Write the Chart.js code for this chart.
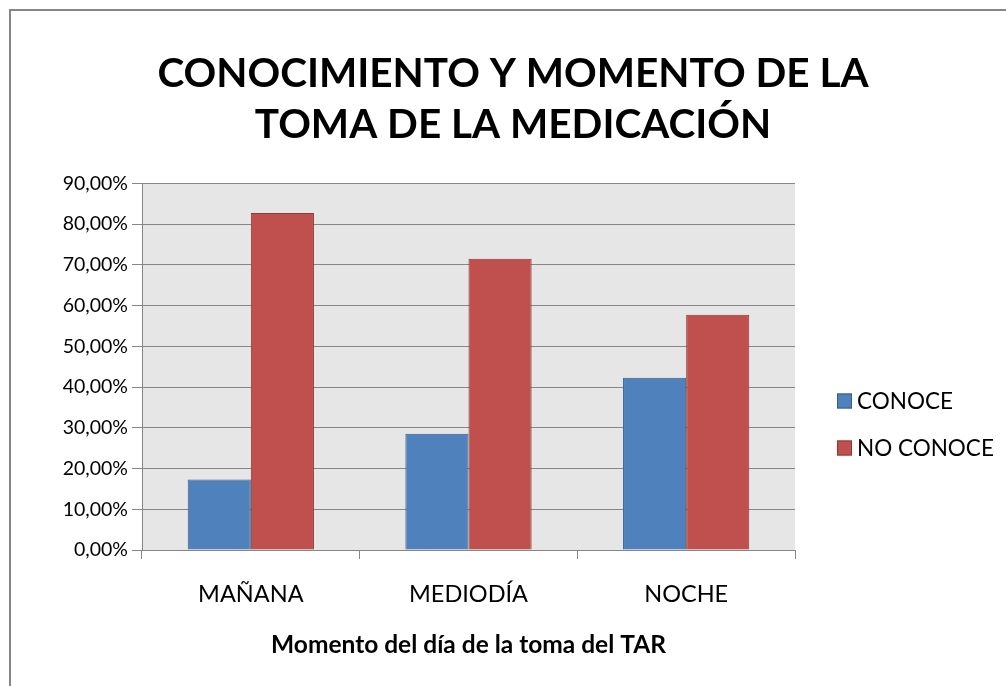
<!DOCTYPE html>
<html>
<head>
<meta charset="utf-8">
<script src="https://cdn.jsdelivr.net/npm/chart.js@4/dist/chart.umd.min.js"></script>
<style>
  html, body { margin: 0; padding: 0; background: #fff; }
  #wrap { position: relative; width: 1006px; height: 686px; }
</style>
</head>
<body>
<div id="wrap"><canvas id="chart" width="1006" height="686"></canvas></div>
<script>
// datos del gráfico
const categories = ["MAÑANA", "MEDIODÍA", "NOCHE"];
const conoce = [17.3, 28.5, 42.3];
const noConoce = [82.7, 71.5, 57.7];
const seriesNames = ["CONOCE", "NO CONOCE"];
const titleLines = ["CONOCIMIENTO Y MOMENTO DE LA", "TOMA DE LA MEDICACIÓN"];
const xTitle = "Momento del día de la toma del TAR";

const FONT = "Lato, 'Noto Sans', sans-serif";
const GRID = "#868686";

// marco gris + fondo del área de trazado
const backgroundPlugin = {
  id: "background",
  beforeDraw(chart) {
    const { ctx, chartArea } = chart;
    ctx.save();
    ctx.fillStyle = "#e6e6e6";
    ctx.fillRect(chartArea.left, chartArea.top, chartArea.right - chartArea.left, chartArea.bottom - chartArea.top);
    ctx.strokeStyle = GRID;
    ctx.lineWidth = 2;
    ctx.beginPath();
    ctx.moveTo(10, chart.height + 5);
    ctx.lineTo(10, 10);
    ctx.lineTo(chart.width + 5, 10);
    ctx.stroke();
    ctx.restore();
  },
};

// leyenda a la derecha
const sideLegend = {
  id: "sideLegend",
  afterDraw(chart) {
    const { ctx, chartArea } = chart;
    const x = chartArea.right + 42;
    const yMid = 424;
    const step = 47;
    const items = chart.data.datasets;
    ctx.save();
    ctx.font = "22.5px " + FONT;
    ctx.textBaseline = "middle";
    items.forEach((ds, i) => {
      const y = yMid + (i - (items.length - 1) / 2) * step;
      ctx.fillStyle = ds.backgroundColor;
      ctx.fillRect(x, y - 7, 15, 15);
      ctx.strokeStyle = ds.borderColor;
      ctx.lineWidth = 1;
      ctx.strokeRect(x + 0.5, y - 6.5, 14, 14);
      ctx.fillStyle = "#000";
      ctx.fillText(ds.label, x + 20, y + 1);
    });
    ctx.restore();
  },
};

new Chart(document.getElementById("chart"), {
  type: "bar",
  data: {
    labels: categories,
    datasets: [
      {
        label: seriesNames[0],
        data: conoce,
        backgroundColor: "#4f81bd",
        borderColor: "#385d8a",
        borderWidth: 1,
      },
      {
        label: seriesNames[1],
        data: noConoce,
        backgroundColor: "#c0504d",
        borderColor: "#8c3836",
        borderWidth: 1,
      },
    ],
  },
  options: {
    responsive: false,
    animation: false,
    layout: { padding: { left: 20, right: 0, top: 0, bottom: 22 } },
    datasets: {
      bar: { categoryPercentage: 0.58, barPercentage: 1.0 },
    },
    plugins: {
      legend: { display: false },
      tooltip: { enabled: false },
      title: {
        display: true,
        text: titleLines,
        color: "#000",
        font: { family: FONT, size: 40.5, weight: "bold", lineHeight: 1.25 },
        padding: { top: 49, bottom: 33 },
      },
    },
    scales: {
      x: {
        afterFit(scale) { scale.height = 114; },
        grid: {
          offset: true,
          drawOnChartArea: false,
          color: GRID,
          tickLength: 9,
        },
        border: { color: GRID },
        ticks: {
          color: "#000",
          padding: 21,
          font: { family: FONT, size: 23.5 },
        },
        title: {
          display: true,
          text: xTitle,
          color: "#000",
          padding: { top: 22 },
          font: { family: FONT, size: 24.5, weight: "bold" },
        },
      },
      y: {
        min: 0,
        max: 90,
        afterFit(scale) { scale.width = 122; },
        grid: { color: GRID, tickLength: 10 },
        border: { color: GRID },
        ticks: {
          stepSize: 10,
          color: "#000",
          padding: 4,
          font: { family: FONT, size: 19.5 },
          callback: (v) => v.toFixed(2).replace(".", ",") + "%",
        },
      },
      // eje vacío a la derecha: reserva el espacio de la leyenda
      legendSpace: {
        type: "linear",
        position: "right",
        display: true,
        afterFit(scale) { scale.width = 211; },
        grid: { display: false },
        border: { display: false },
        ticks: { display: false },
      },
    },
  },
  plugins: [backgroundPlugin, sideLegend],
});
</script>
</body>
</html>
